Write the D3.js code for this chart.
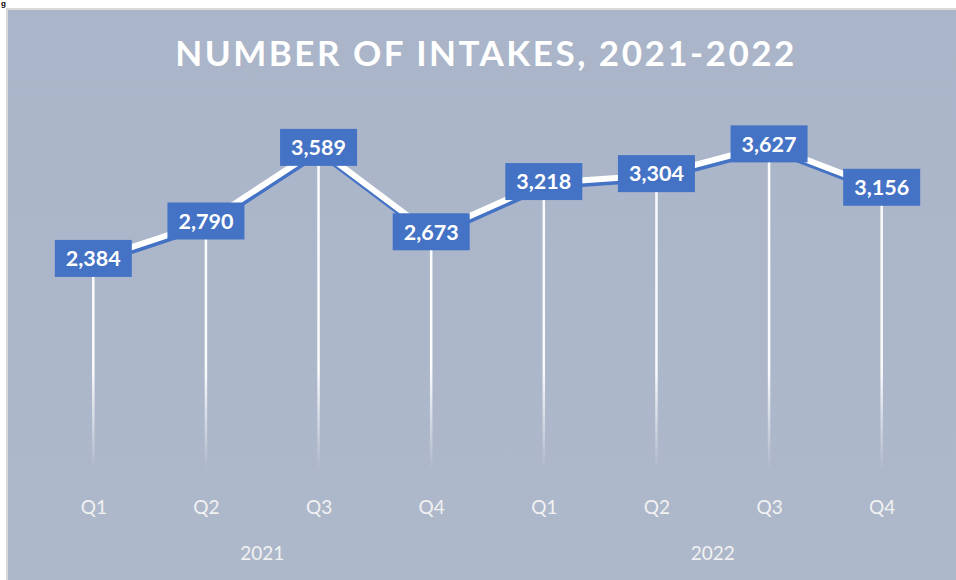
<!DOCTYPE html>
<html><head><meta charset="utf-8">
<script src="https://cdn.jsdelivr.net/npm/d3@7"></script>
<style>html,body{margin:0;padding:0;background:#fff;overflow:hidden}svg{display:block}</style>
</head><body>
<svg id="c" width="956" height="580"></svg>
<script>
const quarters = ["Q1","Q2","Q3","Q4","Q1","Q2","Q3","Q4"];
const years = ["2021","2022"];
const intakes = [2384, 2790, 3589, 2673, 3218, 3304, 3627, 3156];
const title = "NUMBER OF INTAKES, 2021-2022";

const svg = d3.select("#c");
const W = 956, H = 580;
const font = "Lato, 'Open Sans', sans-serif";

// caption fragment above chart
svg.append("text").attr("x", 1).attr("y", 6).attr("font-family","Liberation Sans, Arial")
  .attr("font-weight","bold").attr("font-size",8).attr("fill","#000").text("g");

// chart area
const bg = svg.append("g");
bg.append("rect").attr("x",6).attr("y",8).attr("width",W-6).attr("height",H-8).attr("fill","#d9d9d9");
const defs = svg.append("defs");
const bgGrad = defs.append("linearGradient").attr("id","bgg").attr("x1",0).attr("y1",0).attr("x2",0).attr("y2",1);
bgGrad.append("stop").attr("offset","0%").attr("stop-color","#aab5c9");
bgGrad.append("stop").attr("offset","100%").attr("stop-color","#aeb8cb");
bg.append("rect").attr("x",8).attr("y",10).attr("width",W-8).attr("height",H-10).attr("fill","url(#bgg)");

const dropGrad = defs.append("linearGradient").attr("id","dg").attr("gradientUnits","userSpaceOnUse")
  .attr("x1",0).attr("y1",370).attr("x2",0).attr("y2",470);
dropGrad.append("stop").attr("offset","0%").attr("stop-color","#ffffff").attr("stop-opacity",0.95);
dropGrad.append("stop").attr("offset","100%").attr("stop-color","#ffffff").attr("stop-opacity",0);

// title
svg.append("text").attr("x",486).attr("y",66).attr("text-anchor","middle")
  .attr("font-family",font).attr("font-weight","bold").attr("font-size",35)
  .attr("letter-spacing",2.5).attr("fill","#ffffff").text(title);

// scales
const idx = d3.range(intakes.length);
const x = d3.scalePoint().domain(idx).range([37, 938]).padding(0.5);
const y = d3.scaleLinear().domain([0, 4000]).range([479.6, 111]);
const dropBottom = 470;

// drop lines
svg.append("g").selectAll("line").data(idx).join("line")
  .attr("x1", i => x(i)).attr("x2", i => x(i))
  .attr("y1", i => y(intakes[i])).attr("y2", dropBottom)
  .attr("stroke","url(#dg)").attr("stroke-width",2.5);

// line with blue shadow
const line = d3.line().x(i => x(i)).y(i => y(intakes[i]));
svg.append("path").datum(idx).attr("d", line).attr("transform","translate(1,3.5)")
  .attr("fill","none").attr("stroke","#4472c4").attr("stroke-width",6).attr("stroke-linejoin","round");
svg.append("path").datum(idx).attr("d", line)
  .attr("fill","none").attr("stroke","#ffffff").attr("stroke-width",6).attr("stroke-linejoin","round");

// labels
const fmt = d3.format(",");
const lab = svg.append("g").selectAll("g").data(idx).join("g")
  .attr("transform", i => `translate(${x(i)},${y(intakes[i])-1.5})`);
lab.append("rect").attr("x",-38.5).attr("y",-18.5).attr("width",77).attr("height",37).attr("fill","#4472c4");
lab.append("text").attr("text-anchor","middle").attr("dy","0.36em")
  .attr("font-family",font).attr("font-weight","bold").attr("font-size",21.5).attr("fill","#ffffff")
  .text(i => fmt(intakes[i]));

// x axis labels
const axis = d3.axisBottom(x).tickSize(0).tickFormat(i => quarters[i]);
const ag = svg.append("g").attr("transform","translate(0,497)").call(axis);
ag.select(".domain").remove();
ag.selectAll("text").attr("font-family",font).attr("font-size",19).attr("fill","#f2f2f2").attr("dy","0.71em");

// years
years.forEach((yr, k) => {
  const sub = idx.filter(i => Math.floor(i/4) === k);
  const cx = (x(sub[0]) + x(sub[sub.length-1]))/2;
  svg.append("text").attr("x",cx).attr("y",560).attr("text-anchor","middle")
    .attr("font-family",font).attr("font-size",19).attr("fill","#f2f2f2").text(yr);
});
</script>
</body></html>
